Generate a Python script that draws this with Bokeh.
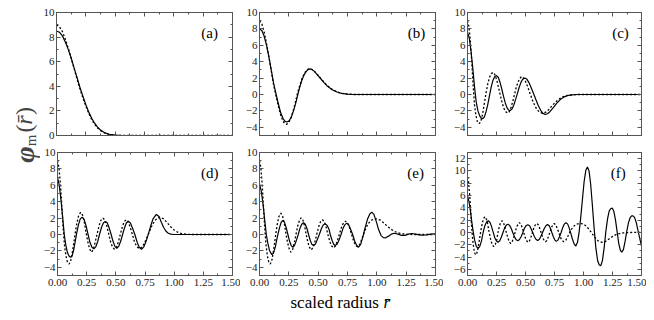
import math
from bokeh.plotting import figure
from bokeh.models import Range1d, LinearAxis, FixedTicker, Label
from bokeh.layouts import row, column
from bokeh.embed import file_html
from bokeh.resources import INLINE

FONT = "Liberation Serif, DejaVu Serif, serif"

# ---------------- data ----------------
x_ticks = [0.0, 0.25, 0.5, 0.75, 1.0, 1.25, 1.5]
x_minor = [0.125, 0.375, 0.625, 0.875, 1.125, 1.375]
x_tick_labels = ["0.00", "0.25", "0.50", "0.75", "1.00", "1.25", "1.50"]

panel_names = ["(a)", "(b)", "(c)", "(d)", "(e)", "(f)"]

# (a)
a_r_s = [0, .025, .05, .075, .1, .125, .15, .175, .2, .225, .25, .275, .3, .325, .35, .375, .4, .425, .45, .5, .55, .6, 1.5]
a_v_s = [8.5, 8.4, 8.1, 7.6, 7.0, 6.3, 5.5, 4.7, 3.9, 3.2, 2.5, 1.9, 1.4, 1.0, .68, .45, .28, .17, .1, .03, .01, 0, 0]
a_r_d = [0, .025, .05, .075, .1, .125, .15, .175, .2, .225, .25, .275, .3, .325, .35, .375, .4, .425, .45, .5, .55, 1.5]
a_v_d = [9.0, 8.85, 8.45, 7.85, 7.1, 6.3, 5.45, 4.6, 3.8, 3.05, 2.4, 1.8, 1.3, .9, .6, .4, .25, .15, .08, .02, 0, 0]

# (b)
b_r_s = [0, .02, .04, .06, .08, .1, .12, .142, .16, .18, .2, .215, .232, .25, .27, .29, .31, .325, .34, .36, .38, .4, .415, .43, .445, .465, .49, .52, .55, .58, .62, .66, .7, .75, .8, 1.5]
b_v_s = [8.0, 7.8, 7.1, 6.0, 4.6, 3.0, 1.4, 0, -1.1, -2.2, -2.9, -3.25, -3.36, -3.25, -2.8, -2.0, -1.0, -.1, .75, 1.7, 2.4, 2.85, 3.05, 3.12, 3.05, 2.85, 2.45, 1.95, 1.45, 1.0, .58, .3, .13, .04, 0, 0]
b_r_d = [0, .02, .04, .06, .08, .1, .12, .138, .16, .18, .2, .215, .23, .245, .265, .285, .305, .32, .34, .36, .38, .4, .415, .43, .445, .465, .49, .52, .55, .58, .62, .66, .7, .75, .8, 1.5]
b_v_d = [9.0, 8.6, 7.6, 6.2, 4.6, 2.9, 1.2, 0, -1.4, -2.5, -3.25, -3.55, -3.64, -3.5, -3.0, -2.1, -1.0, -.05, .95, 1.85, 2.5, 2.95, 3.1, 3.15, 3.08, 2.88, 2.5, 2.0, 1.5, 1.05, .62, .32, .15, .05, 0, 0]

# (c)
c_r_s = [0, .015, .03, .045, .063, .075, .09, .105, .118, .13, .145, .16, .175, .19, .205, .22, .235, .25, .265, .28, .295, .31, .325, .34, .355, .368, .385, .4, .415, .43, .445, .46, .475, .494, .51, .53, .55, .57, .59, .61, .63, .65, .67, .69, .71, .74, .77, .8, .83, .86, .9, .95, 1.5]
c_v_s = [7.6, 6.9, 5.3, 3.3, .6, -.9, -2.0, -2.6, -2.88, -2.96, -2.75, -2.1, -1.2, -.1, .95, 1.75, 2.2, 2.3, 2.1, 1.5, .7, -.2, -1.0, -1.6, -1.9, -1.95, -1.75, -1.25, -.6, .1, .85, 1.45, 1.85, 2.02, 1.9, 1.45, .8, .1, -.65, -1.35, -1.9, -2.3, -2.43, -2.35, -2.1, -1.6, -1.05, -.62, -.32, -.14, -.04, 0, 0]
c_r_d = [0, .012, .025, .037, .049, .06, .072, .085, .1, .115, .13, .145, .16, .175, .19, .205, .221, .235, .25, .265, .28, .295, .31, .325, .345, .36, .375, .39, .405, .42, .435, .45, .466, .48, .5, .52, .54, .56, .58, .6, .625, .65, .675, .7, .73, .76, .79, .82, .85, .9, .95, 1.5]
c_v_d = [9.0, 8.3, 6.5, 3.9, 1.0, -1.2, -2.5, -3.3, -3.56, -3.3, -2.4, -1.1, .2, 1.3, 2.1, 2.55, 2.7, 2.45, 1.85, 1.0, .1, -.8, -1.55, -2.05, -2.27, -2.1, -1.6, -.85, 0, .85, 1.5, 1.95, 2.19, 2.05, 1.6, .9, .1, -.7, -1.35, -1.85, -2.2, -2.3, -2.15, -1.85, -1.35, -.9, -.55, -.3, -.14, -.04, 0, 0]

# (d)
d_r_s = [0, .015, .03, .045, .058, .07, .085, .1, .113, .125, .14, .155, .165, .18, .195, .212, .228, .245, .262, .278, .295, .311, .328, .345, .36, .377, .393, .41, .427, .443, .46, .475, .492, .508, .525, .542, .558, .574, .59, .607, .625, .645, .663, .683, .7, .72, .74, .76, .78, .8, .82, .847, .87, .89, .91, .93, .95, .97, 1.0, 1.5]
d_v_s = [7.0, 6.0, 4.2, 2.0, 0, -1.2, -2.2, -2.65, -2.78, -2.6, -1.8, -.6, .2, 1.2, 1.9, 2.12, 1.85, 1.05, 0, -.95, -1.55, -1.76, -1.5, -.85, 0, .85, 1.4, 1.6, 1.4, .8, 0, -.8, -1.45, -1.67, -1.45, -.8, 0, .8, 1.4, 1.63, 1.4, .7, 0, -.95, -1.55, -1.8, -1.5, -.8, .1, 1.1, 1.95, 2.45, 2.2, 1.5, .85, .4, .15, .04, 0, 0]
d_r_d = [0, .012, .025, .037, .048, .06, .072, .085, .099, .112, .125, .14, .15, .165, .18, .198, .215, .23, .245, .26, .275, .291, .307, .322, .34, .357, .373, .39, .407, .423, .44, .456, .472, .489, .506, .522, .538, .555, .571, .588, .606, .624, .642, .66, .68, .705, .73, .755, .78, .805, .83, .855, .884, .91, .94, .97, 1.0, 1.03, 1.06, 1.1, 1.15, 1.5]
d_v_d = [9.0, 8.2, 6.2, 3.5, .8, -1.3, -2.6, -3.35, -3.6, -3.3, -2.4, -1.0, 0, 1.3, 2.25, 2.7, 2.35, 1.5, .2, -.9, -1.75, -2.16, -1.85, -1.0, .1, 1.1, 1.75, 2.0, 1.75, 1.0, 0, -.95, -1.55, -1.8, -1.55, -.9, 0, .9, 1.55, 1.8, 1.55, .85, 0, -.9, -1.5, -1.75, -1.45, -.75, .1, .95, 1.6, 2.0, 2.1, 1.9, 1.45, .95, .55, .28, .13, .04, 0, 0]

# (e)
e_r_s = [0, .015, .03, .045, .058, .07, .085, .105, .12, .135, .15, .16, .172, .185, .199, .214, .228, .242, .256, .27, .284, .298, .314, .33, .345, .36, .375, .39, .405, .418, .432, .446, .46, .477, .493, .51, .527, .543, .56, .577, .593, .603, .618, .632, .645, .662, .68, .695, .712, .728, .744, .76, .777, .794, .81, .827, .844, .862, .88, .9, .92, .94, .957, .975, .995, 1.015, 1.035, 1.055, 1.075, 1.1, 1.125, 1.15, 1.18, 1.21, 1.24, 1.27, 1.3, 1.34, 1.38, 1.42, 1.46, 1.5]
e_v_s = [6.2, 5.3, 3.7, 1.7, 0, -1.0, -1.95, -2.45, -2.25, -1.5, -.45, .2, .9, 1.5, 1.71, 1.45, .8, 0, -.8, -1.35, -1.55, -1.35, -.75, 0, .75, 1.25, 1.43, 1.25, .7, 0, -.7, -1.2, -1.35, -1.15, -.6, 0, .7, 1.15, 1.3, 1.1, .6, 0, -.7, -1.2, -1.35, -1.15, -.6, 0, .75, 1.2, 1.39, 1.2, .6, 0, -.75, -1.3, -1.55, -1.2, -.35, .8, 1.85, 2.5, 2.73, 2.45, 1.6, .6, -.1, -.38, -.4, -.2, .05, .15, .05, -.1, -.1, .05, .12, .02, -.08, -.05, .05, .08]
e_r_d = [0, .011, .022, .033, .044, .055, .067, .079, .091, .103, .116, .13, .138, .152, .166, .182, .197, .211, .224, .238, .253, .267, .282, .297, .311, .325, .34, .355, .37, .385, .398, .412, .426, .44, .456, .472, .488, .504, .52, .537, .553, .568, .583, .6, .615, .63, .647, .663, .68, .698, .715, .733, .75, .768, .785, .802, .818, .835, .855, .875, .9, .925, .95, .975, 1.0, 1.03, 1.06, 1.09, 1.12, 1.15, 1.18, 1.22, 1.26, 1.3, 1.5]
e_v_d = [9.0, 8.2, 6.3, 3.7, .9, -1.2, -2.6, -3.35, -3.6, -3.3, -2.3, -.9, 0, 1.3, 2.2, 2.6, 2.25, 1.4, .2, -.9, -1.75, -2.16, -1.85, -1.0, 0, 1.0, 1.7, 2.04, 1.75, 1.0, 0, -.95, -1.55, -1.88, -1.6, -.9, 0, .95, 1.55, 1.8, 1.55, .9, 0, -.9, -1.4, -1.63, -1.4, -.8, 0, .85, 1.4, 1.63, 1.4, .8, 0, -.8, -1.3, -1.5, -1.2, -.45, .55, 1.3, 1.7, 1.88, 1.9, 1.75, 1.4, 1.0, .65, .38, .2, .08, .02, 0, 0]

# (f)
f_r_s = [0, .013, .026, .04, .05, .062, .076, .091, .105, .12, .135, .148, .164, .18, .195, .208, .222, .236, .25, .263, .278, .292, .306, .32, .335, .349, .363, .377, .39, .405, .42, .434, .448, .463, .477, .49, .505, .52, .535, .548, .562, .576, .59, .605, .62, .633, .647, .662, .676, .69, .704, .716, .727, .74, .752, .765, .779, .793, .807, .82, .834, .849, .864, .877, .89, .905, .92, .934, .948, .962, .975, .99, 1.005, 1.02, 1.034, 1.048, 1.062, 1.077, 1.092, 1.107, 1.122, 1.136, 1.149, 1.163, 1.178, 1.193, 1.208, 1.222, 1.236, 1.249, 1.262, 1.276, 1.29, 1.304, 1.318, 1.33, 1.344, 1.358, 1.372, 1.388, 1.402, 1.415, 1.427, 1.44, 1.455, 1.47, 1.485, 1.5]
f_v_s = [6.0, 5.0, 3.4, 1.3, 0, -1.3, -2.25, -2.6, -2.3, -1.4, 0, 1.0, 1.7, 1.9, 1.6, .9, 0, -.9, -1.4, -1.6, -1.35, -.75, 0, .75, 1.2, 1.35, 1.15, .65, 0, -.7, -1.2, -1.35, -1.15, -.65, 0, .65, 1.1, 1.25, 1.1, .6, 0, -.65, -1.1, -1.3, -1.1, -.6, 0, .65, 1.1, 1.3, 1.1, .6, 0, -.7, -1.2, -1.45, -1.25, -.7, 0, .75, 1.35, 1.6, 1.35, .7, -.1, -1.1, -1.9, -2.2, -1.6, 0, 2.2, 5.2, 8.2, 10.1, 10.65, 10.0, 7.8, 4.3, .6, -2.6, -4.6, -5.3, -5.4, -4.6, -2.5, .2, 2.3, 3.5, 3.9, 3.95, 3.4, 2.0, .1, -1.8, -2.9, -3.2, -2.8, -1.5, .1, 1.6, 2.4, 2.68, 2.7, 2.45, 1.6, .3, -1.0, -2.2]
f_r_d = [0, .009, .018, .027, .036, .045, .053, .062, .071, .08, .09, .1, .11, .12, .13, .14, .149, .16, .172, .185, .198, .212, .226, .24, .253, .262, .272, .284, .297, .31, .322, .335, .348, .36, .372, .385, .398, .41, .422, .435, .447, .46, .472, .485, .497, .51, .522, .535, .547, .56, .572, .585, .597, .61, .622, .635, .647, .66, .672, .685, .697, .71, .722, .735, .747, .76, .773, .787, .8, .815, .83, .848, .868, .89, .915, .94, .96, .98, 1.0, 1.025, 1.05, 1.075, 1.1, 1.125, 1.157, 1.19, 1.22, 1.25, 1.28, 1.31, 1.34, 1.38, 1.42, 1.46, 1.5]
f_v_d = [9.0, 8.2, 6.3, 3.7, .9, -1.2, -2.5, -3.35, -3.65, -3.4, -2.6, -1.5, -.3, .8, 1.7, 2.3, 2.55, 2.3, 1.6, .2, -1.0, -1.95, -2.3, -1.95, -1.1, -.1, .8, 1.55, 1.9, 1.6, .9, 0, -.9, -1.5, -1.8, -1.5, -.85, 0, .8, 1.35, 1.6, 1.35, .8, 0, -.8, -1.35, -1.6, -1.35, -.75, 0, .75, 1.25, 1.45, 1.25, .7, 0, -.75, -1.3, -1.5, -1.3, -.7, 0, .7, 1.25, 1.45, 1.25, .7, 0, -.75, -1.3, -1.5, -1.25, -.5, .35, 1.0, 1.35, 1.45, 1.45, 1.35, 1.0, .45, -.2, -.85, -1.35, -1.62, -1.45, -1.05, -.65, -.35, -.18, -.08, -.02, 0, .02, .02]

panels_data = [
    (a_r_s, a_v_s, a_r_d, a_v_d),
    (b_r_s, b_v_s, b_r_d, b_v_d),
    (c_r_s, c_v_s, c_r_d, c_v_d),
    (d_r_s, d_v_s, d_r_d, d_v_d),
    (e_r_s, e_v_s, e_r_d, e_v_d),
    (f_r_s, f_v_s, f_r_d, f_v_d),
]

y_ranges = [(0, 10), (-5, 10), (-5, 10), (-5, 10), (-5, 10), (-7, 13)]
y_ticks = [
    [0, 2, 4, 6, 8, 10],
    [-4, -2, 0, 2, 4, 6, 8, 10],
    [-4, -2, 0, 2, 4, 6, 8, 10],
    [-4, -2, 0, 2, 4, 6, 8, 10],
    [-4, -2, 0, 2, 4, 6, 8, 10],
    [-6, -4, -2, 0, 2, 4, 6, 8, 10, 12],
]

# ---------------- layout / style ----------------
AX = "#555555"
TXT = "#222222"

# (width, min_border_left, min_border_right) per column
cols = [(200, 15, 8), (203, 19, 8), (203, 24, 5)]
# (height, top, bottom) per row
rows_geo = [(143, 12, 8), (149, 9, 17)]
label_pos = [(1.305, 8.37), (1.338, 7.56), (1.319, 7.56),
             (1.305, 7.44), (1.33, 7.44), (1.30, 9.59)]


def style_axis(ax, ticks, minor, show_labels, labels=None):
    ax.ticker = FixedTicker(ticks=ticks, minor_ticks=minor)
    ax.axis_line_color = AX
    ax.axis_line_width = 1
    ax.major_tick_line_color = AX
    ax.minor_tick_line_color = AX
    ax.major_tick_in = 4
    ax.major_tick_out = 0
    ax.minor_tick_in = 2
    ax.minor_tick_out = 0
    ax.major_label_text_font = FONT
    ax.major_label_text_color = TXT
    if show_labels:
        ax.major_label_text_font_size = "11px"
        if labels:
            ax.major_label_overrides = dict(zip(ticks, labels))
    else:
        ax.major_label_text_font_size = "1px"
        ax.major_label_standoff = 0
        ax.major_label_overrides = {t: "" for t in ticks}


figs = []
for i in range(6):
    ri, ci = divmod(i, 3)
    w, bl, br = cols[ci]
    h, bt, bb = rows_geo[ri]
    ylo, yhi = y_ranges[i]
    p = figure(width=w, height=h, x_range=Range1d(0, 1.5), y_range=Range1d(ylo, yhi),
               output_backend="svg", toolbar_location=None,
               min_border_left=bl, min_border_right=br,
               min_border_top=bt, min_border_bottom=bb)
    p.xgrid.visible = False
    p.ygrid.visible = False
    p.outline_line_color = AX
    p.background_fill_color = "white"
    p.border_fill_color = "white"
    p.add_layout(LinearAxis(), "above")
    p.add_layout(LinearAxis(), "right")

    yt = y_ticks[i]
    ym = [v for v in range(int(ylo), int(yhi) + 1) if v not in yt]
    for ax in p.xaxis:
        is_below = ax in p.below
        style_axis(ax, x_ticks, x_minor, is_below and ri == 1, x_tick_labels)
        if is_below and ri == 1:
            ax.major_label_standoff = 3
    for ax in p.yaxis:
        is_left = ax in p.left
        style_axis(ax, yt, ym, is_left)
        if is_left:
            ax.major_label_standoff = 2

    rs, vs, rd, vd = panels_data[i]
    p.line(rs, vs, line_color="black", line_width=1.2)
    p.line(rd, vd, line_color="black", line_width=1.3, line_dash="2 2")

    lx, ly = label_pos[i]
    p.add_layout(Label(x=lx, y=ly, text=panel_names[i], text_font=FONT,
                       text_font_size="15px", text_color="black",
                       text_align="center", text_baseline="middle"))
    figs.append(p)

# x-axis title in its own strip below the panels (page coordinates)
xf = figure(width=606, height=24, x_range=Range1d(40, 646), y_range=Range1d(316, 292),
            x_axis_type=None, y_axis_type=None, output_backend="svg",
            toolbar_location=None, min_border=0)
xf.outline_line_color = None
xf.grid.visible = False
xf.add_layout(Label(x=290, y=302, text="scaled radius", text_font=FONT,
                    text_font_size="17px", text_color="black",
                    text_align="left", text_baseline="middle"))
xf.add_layout(Label(x=383, y=302, text="r\u0304", text_font=FONT,
                    text_font_size="17px", text_font_style="italic", text_color="black",
                    text_align="left", text_baseline="middle"))

# y-axis title in its own narrow strip (page coordinates)
yl = figure(width=40, height=316, x_range=Range1d(0, 40), y_range=Range1d(316, 0),
            x_axis_type=None, y_axis_type=None, output_backend="svg",
            toolbar_location=None, min_border=0)
yl.outline_line_color = None
yl.grid.visible = False
half = math.pi / 2
yl.add_layout(Label(x=24, y=154, text="\u03c6", angle=half, text_font=FONT,
                    text_font_size="28px", text_font_style="bold italic",
                    text_align="center", text_baseline="middle"))
yl.add_layout(Label(x=30, y=140, text="m", angle=half, text_font=FONT,
                    text_font_size="15px",
                    text_align="center", text_baseline="middle"))
yl.add_layout(Label(x=23, y=128, text="(", angle=half, text_font=FONT,
                    text_font_size="24px",
                    text_align="center", text_baseline="middle"))
yl.add_layout(Label(x=23, y=119.5, text="r\u0304", angle=half, text_font=FONT,
                    text_font_size="24px", text_font_style="italic",
                    text_align="center", text_baseline="middle"))
yl.add_layout(Label(x=23, y=110.5, text=")", angle=half, text_font=FONT,
                    text_font_size="24px",
                    text_align="center", text_baseline="middle"))

layout = row(yl, column(row(*figs[:3]), row(*figs[3:]), xf))

with open("out.html", "w") as fh:
    fh.write(file_html(layout, INLINE))
